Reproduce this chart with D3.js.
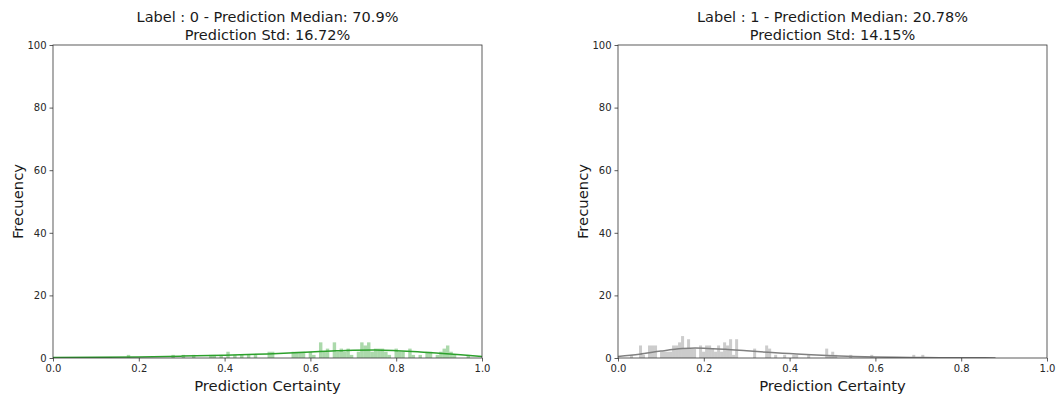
<!DOCTYPE html>
<html><head><meta charset="utf-8">
<script src="https://cdn.jsdelivr.net/npm/d3@7"></script>
<style>body{margin:0;background:#fff}svg{display:block}text{font-family:"DejaVu Sans",sans-serif}</style>
</head><body><svg id="c" width="1057" height="398"></svg>
<script>
const titles0 = ["Label : 0 - Prediction Median: 70.9%", "Prediction Std: 16.72%"];
const titles1 = ["Label : 1 - Prediction Median: 20.78%", "Prediction Std: 14.15%"];
const xTicks = [0, 0.2, 0.4, 0.6, 0.8, 1.0];
const yTicks = [0, 20, 40, 60, 80, 100];
const xLabel = "Prediction Certainty";
const yLabel = "Frecuency";

const binWidth0 = 0.008;
const binStart0 = [0.172,0.276,0.300,0.324,0.364,0.372,0.388,0.404,0.420,0.436,0.452,0.468,0.500,0.508,0.556,0.564,0.572,0.580,0.596,0.604,0.620,0.628,0.636,0.652,0.660,0.668,0.676,0.684,0.692,0.708,0.716,0.724,0.732,0.740,0.748,0.756,0.764,0.772,0.780,0.796,0.804,0.812,0.828,0.836,0.852,0.868,0.876,0.892,0.900,0.908,0.916,0.924,0.932,0.964];
const binCount0 = [1,1,1,1,1,1,1,2,1,1,1,1,2,2,2,2,2,2,2,1,5,2,3,5,2,3,2,3,1,2,5,4,5,2,3,3,3,2,1,3,2,2,3,1,1,2,2,1,2,3,4,2,1,1];
const kdeX0 = [0,0.1,0.2,0.3,0.4,0.5,0.6,0.65,0.7,0.75,0.8,0.85,0.9,0.95,1.0];
const kdeY0 = [0.15,0.2,0.35,0.6,0.9,1.3,1.9,2.25,2.5,2.55,2.35,2.0,1.5,1.0,0.45];

const binWidth1 = 0.007;
const binStart1 = [0.028,0.049,0.056,0.070,0.077,0.084,0.098,0.105,0.112,0.119,0.126,0.133,0.140,0.147,0.154,0.161,0.168,0.175,0.189,0.196,0.203,0.210,0.217,0.224,0.231,0.238,0.245,0.252,0.259,0.266,0.273,0.315,0.343,0.350,0.364,0.385,0.406,0.413,0.441,0.483,0.490,0.497,0.504,0.539,0.588,0.686,0.707];
const binCount1 = [1,4,1,4,4,4,2,2,2,2,4,4,5,7,3,6,3,3,4,2,4,4,3,2,4,2,5,4,6,1,6,3,4,3,1,1,1,1,1,3,1,2,1,1,1,1,1];
const kdeX1 = [0,0.05,0.1,0.15,0.18,0.2,0.25,0.3,0.35,0.4,0.45,0.5,0.55,0.6,0.65,0.7,0.75,0.8,0.88];
const kdeY1 = [0.5,1.2,2.2,3.0,3.2,3.15,2.8,2.3,1.8,1.4,1.0,0.7,0.45,0.3,0.2,0.15,0.1,0.07,0.03];

const svg = d3.select("#c");
const panels = [
  {left:53, titles:titles0, bs:binStart0, bc:binCount0, bw:binWidth0, kx:kdeX0, ky:kdeY0, color:"#2ca02c"},
  {left:618, titles:titles1, bs:binStart1, bc:binCount1, bw:binWidth1, kx:kdeX1, ky:kdeY1, color:"#808080"}
];
const plotTop = 45, W = 429, H = 313;

panels.forEach((p, i) => {
  const g = svg.append("g").attr("transform", `translate(${p.left},${plotTop})`);
  const x = d3.scaleLinear().domain([0,1]).range([0,W]);
  const y = d3.scaleLinear().domain([0,100]).range([H,0]);
  const cid = "clip"+i;
  g.append("clipPath").attr("id", cid).append("rect").attr("width", W).attr("height", H);
  const plot = g.append("g").attr("clip-path", `url(#${cid})`);
  plot.selectAll("rect.bar").data(p.bs).join("rect").attr("class","bar")
    .attr("x", d => x(d)).attr("width", x(p.bw) - x(0))
    .attr("y", (d,j) => y(p.bc[j])).attr("height", (d,j) => y(0) - y(p.bc[j]))
    .attr("fill", p.color).attr("fill-opacity", 0.4);
  const line = d3.line().x(d => x(d)).y((d,j) => y(p.ky[j])).curve(d3.curveMonotoneX);
  plot.append("path").datum(p.kx).attr("d", line).attr("fill","none")
    .attr("stroke", p.color).attr("stroke-width", 1.5);

  const xa = g.append("g").attr("transform", `translate(0,${H})`)
    .call(d3.axisBottom(x).tickValues(xTicks).tickFormat(d3.format(".1f")).tickSize(3.5).tickSizeOuter(0));
  const ya = g.append("g").call(d3.axisLeft(y).tickValues(yTicks).tickSize(3.5).tickSizeOuter(0));
  [xa, ya].forEach(a => {
    a.select(".domain").remove();
    a.selectAll("line").attr("stroke","#333").attr("stroke-width",0.8);
    a.selectAll("text").attr("font-size",10).attr("fill","#262626").attr("font-family","DejaVu Sans");
  });
  g.append("rect").attr("width", W).attr("height", H).attr("fill","none").attr("stroke","#333").attr("stroke-width",0.8);

  g.append("text").attr("x", W/2).attr("y", H + 33).attr("text-anchor","middle")
    .attr("font-size", 14.8).attr("fill","#1a1a1a").text(xLabel);
  g.append("text").attr("transform", `translate(-30,${H/2}) rotate(-90)`).attr("text-anchor","middle")
    .attr("font-size", 14.8).attr("fill","#1a1a1a").text(yLabel);
  p.titles.forEach((t, k) => {
    g.append("text").attr("x", W/2).attr("y", -23 + k*17.5).attr("text-anchor","middle")
      .attr("font-size", 14.5).attr("fill","#1a1a1a").text(t);
  });
});
</script></body></html>
